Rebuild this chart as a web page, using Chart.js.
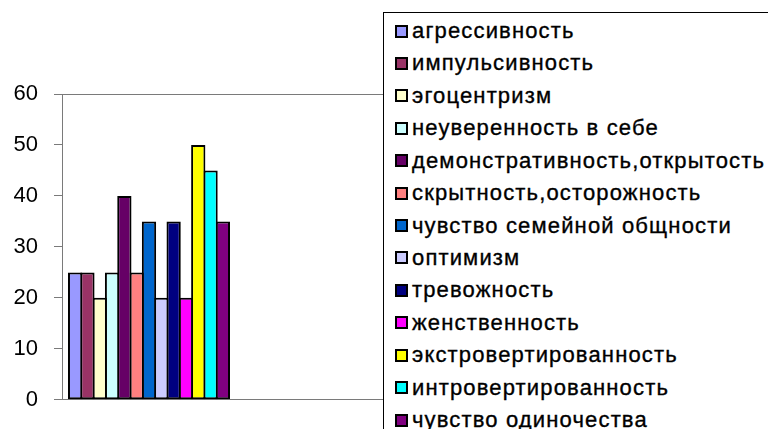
<!DOCTYPE html>
<html lang="ru">
<head>
<meta charset="utf-8">
<title>Личностные характеристики</title>
<script src="https://cdn.jsdelivr.net/npm/chart.js@4/dist/chart.umd.min.js"></script>
<style>
  html, body { margin: 0; padding: 0; background: #fff; overflow: hidden; }
  #wrap { position: relative; width: 768px; height: 429px; overflow: hidden; }
  #chart { position: absolute; left: 0; top: 0; }
  #legend {
    position: absolute; left: 383px; top: 12px; width: 420px; height: 440px;
    background: #fff; border: 1px solid #000; box-sizing: border-box;
    font-family: "Liberation Sans", Arial, sans-serif; font-size: 22px; color: #000;
  }
  .item { position: absolute; left: 11px; height: 24px; display: flex; align-items: center; white-space: nowrap; letter-spacing: 1.15px; -webkit-text-stroke: 0.35px #000; }
  .sw { width: 9px; height: 9px; border: 2px solid #000; margin-right: 4px; flex: none; }
</style>
</head>
<body>
<div id="wrap">
  <canvas id="chart" width="768" height="429"></canvas>
  <div id="legend"></div>
</div>
<script>
// Категории (одна группа столбцов) и значения показателей
const categories = ['', ''];
const traits = [
  'агрессивность',
  'импульсивность',
  'эгоцентризм',
  'неуверенность в себе',
  'демонстративность,открытость',
  'скрытность,осторожность',
  'чувство семейной общности',
  'оптимизм',
  'тревожность',
  'женственность',
  'экстровертированность',
  'интровертированность',
  'чувство одиночества'
];
const values = [25, 25, 20, 25, 40, 25, 35, 20, 35, 20, 50, 45, 35];
const colors = [
  '#9999FF', '#993366', '#FFFFCC', '#CCFFFF', '#660066', '#FF8080', '#0066CC',
  '#CCCCFF', '#000080', '#FF00FF', '#FFFF00', '#00FFFF', '#800080'
];
const yTicks = [0, 10, 20, 30, 40, 50, 60];

const axisColor = '#7a7a7a';

// Столбцы слегка перекрываются, чтобы соседние делили общую чёрную рамку
const datasets = traits.map((name, i) => ({
  label: name,
  data: [values[i]],
  backgroundColor: colors[i],
  borderColor: '#000',
  borderWidth: 2,
  borderSkipped: false,
  categoryPercentage: 0.92,
  barPercentage: 1.16
}));

const chart = new Chart(document.getElementById('chart'), {
  type: 'bar',
  data: { labels: categories, datasets },
  options: {
    responsive: false,
    animation: false,
    layout: { padding: { top: 94, right: 358, bottom: 0, left: 0 } },
    plugins: { legend: { display: false }, tooltip: { enabled: false } },
    scales: {
      x: {
        ticks: { display: false },
        grid: { display: false },
        border: { display: true, color: axisColor, width: 1 },
        afterFit: s => { s.height = 22; }
      },
      y: {
        min: yTicks[0],
        max: yTicks[yTicks.length - 1],
        afterBuildTicks: s => { s.ticks = yTicks.map(v => ({ value: v })); },
        ticks: {
          color: '#000',
          padding: 16,
          font: { family: '"Liberation Sans", Arial, sans-serif', size: 22 }
        },
        grid: {
          color: ctx => (ctx.tick && ctx.tick.value === 60 ? axisColor : 'rgba(0,0,0,0)'),
          tickColor: axisColor,
          tickLength: 8,
          lineWidth: 1
        },
        border: { display: true, color: axisColor, width: 1 },
        afterFit: s => { s.width = 62; }
      }
    }
  }
});

// Легенда поверх правой части области построения
const legend = document.getElementById('legend');
chart.data.datasets.forEach((ds, i) => {
  const row = document.createElement('div');
  row.className = 'item';
  row.style.top = (30 + i * 32.42 - 12 - 12) + 'px';
  const sw = document.createElement('span');
  sw.className = 'sw';
  sw.style.background = ds.backgroundColor;
  const txt = document.createElement('span');
  txt.textContent = ds.label;
  row.appendChild(sw);
  row.appendChild(txt);
  legend.appendChild(row);
});
</script>
</body>
</html>
